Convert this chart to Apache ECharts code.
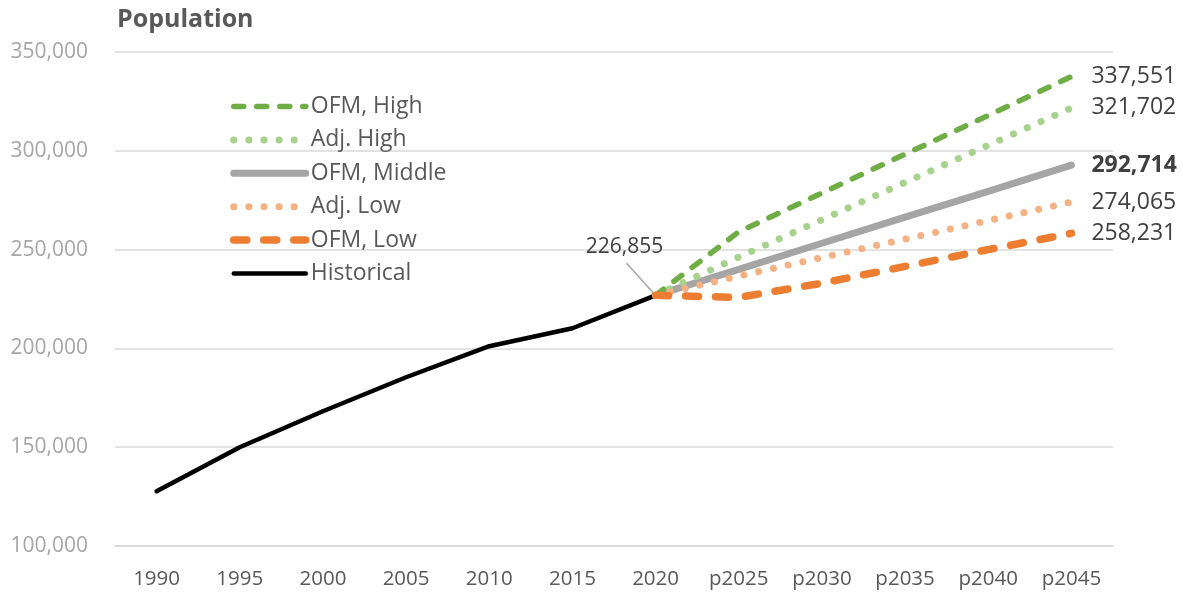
<!DOCTYPE html>
<html>
<head>
<meta charset="utf-8">
<script src="https://cdn.jsdelivr.net/npm/echarts@6/dist/echarts.min.js"></script>
<style>html,body{margin:0;padding:0;background:#fff;}#c{width:1183px;height:596px;}</style>
</head>
<body>
<div id="c"></div>
<script>
const categories = ['1990','1995','2000','2005','2010','2015','2020','p2025','p2030','p2035','p2040','p2045'];
const historical = [127700, 150000, 168200, 185400, 201100, 210200, 226855, null, null, null, null, null];
const ofmHigh   = [null, null, null, null, null, null, 226855, 259000, 278600, 298300, 317900, 337551];
const adjHigh   = [null, null, null, null, null, null, 226855, 246200, 265100, 284000, 302800, 321702];
const ofmMiddle = [null, null, null, null, null, null, 226855, 240000, 253200, 266400, 279500, 292714];
const adjLow    = [null, null, null, null, null, null, 226855, 236600, 246000, 255300, 264700, 274065];
const ofmLow    = [null, null, null, null, null, null, 226855, 225800, 233000, 241500, 250000, 258231];
const yTicks = [100000, 150000, 200000, 250000, 300000, 350000];

const FONT = '"Open Sans", "Noto Sans", sans-serif';
const fmt = v => Number(v).toLocaleString('en-US');

const styles = {
  'Historical':  { color: '#000000', width: 4.5, type: 'solid', cap: 'round' },
  'OFM, Middle': { color: '#A5A5A5', width: 7, type: 'solid', cap: 'round' },
  'Adj. High':   { color: '#A9D18E', width: 7, type: [0.1, 15], cap: 'round' },
  'OFM, High':   { color: '#70AD47', width: 5.5, type: [10, 13], cap: 'round' },
  'Adj. Low':    { color: '#F4B183', width: 7, type: [0.1, 15], cap: 'round' },
  'OFM, Low':    { color: '#ED7D31', width: 7.5, type: [13, 17], cap: 'round' }
};
const legendOrder = ['OFM, High', 'Adj. High', 'OFM, Middle', 'Adj. Low', 'OFM, Low', 'Historical'];

function endLbl(bold) {
  return {
    show: true, distance: 20, fontFamily: FONT, fontSize: 23,
    color: '#404040', fontWeight: bold ? 'bold' : 'normal',
    formatter: p => fmt(p.value)
  };
}

const histData = historical.map((v, i) => {
  if (i === 6) {
    return { value: v, symbol: 'circle', symbolSize: 1,
      label: { show: true, position: 'top', formatter: p => fmt(p.value),
        fontFamily: FONT, fontSize: 21, color: '#404040' } };
  }
  return v;
});

function mkSeries(name, data, z, extra) {
  const s = styles[name];
  return Object.assign({
    name, type: 'line', data, showSymbol: false, symbol: 'none', z,
    lineStyle: { color: s.color, width: s.width, type: s.type, cap: s.cap },
    itemStyle: { color: s.color }
  }, extra || {});
}

const chart = echarts.init(document.getElementById('c'), null, { renderer: 'canvas' });
chart.setOption({
  animation: false,
  backgroundColor: '#ffffff',
  title: {
    text: 'Population', left: 117, top: 7, padding: 0,
    textStyle: { fontFamily: FONT, fontSize: 25, fontWeight: 'bold', color: '#595959' }
  },
  legend: {
    orient: 'vertical', left: 230, top: 95, padding: 0, itemGap: 10.4, itemWidth: 72, itemHeight: 22,
    data: legendOrder.map(n => ({
      name: n,
      itemStyle: { opacity: 0 },
      lineStyle: { color: styles[n].color, width: styles[n].width, type: styles[n].type, cap: styles[n].cap }
    })),
    textStyle: { fontFamily: FONT, fontSize: 23, lineHeight: 21, height: 21, color: '#595959' }
  },
  grid: { left: 115, right: 70, top: 52, bottom: 50 },
  xAxis: {
    type: 'category', data: categories, boundaryGap: true,
    axisLine: { show: true, lineStyle: { color: '#D9D9D9', width: 1.5 } },
    axisTick: { show: false },
    axisLabel: { fontFamily: FONT, fontSize: 20.5, color: '#595959', margin: 23, interval: 0 }
  },
  yAxis: {
    type: 'value', min: yTicks[0], max: yTicks[yTicks.length - 1], interval: 50000,
    axisLine: { show: false }, axisTick: { show: false },
    splitLine: { lineStyle: { color: '#D9D9D9', width: 1.5 } },
    axisLabel: { fontFamily: FONT, fontSize: 21, color: '#A6A6A6', margin: 27, formatter: v => fmt(v) }
  },
  series: [
    mkSeries('Historical', histData, 3, { showSymbol: true, labelLayout: { dx: -31, dy: -32 } }),
    mkSeries('OFM, Middle', ofmMiddle, 4, { endLabel: endLbl(true) }),
    mkSeries('Adj. High', adjHigh, 4, { endLabel: endLbl(false) }),
    mkSeries('OFM, High', ofmHigh, 4, { endLabel: endLbl(false) }),
    mkSeries('Adj. Low', adjLow, 4, { endLabel: endLbl(false) }),
    mkSeries('OFM, Low', ofmLow, 5, { endLabel: endLbl(false) })
  ]
});

// leader line for the 2020 label, anchored on the data point through the chart's own scales
const p = chart.convertToPixel({ gridIndex: 0 }, [categories[6], historical[6]]);
chart.setOption({
  graphic: [{
    type: 'line', z: 2,
    shape: { x1: p[0] - 1, y1: p[1] - 1, x2: p[0] - 29, y2: p[1] - 32 },
    style: { stroke: '#A6A6A6', lineWidth: 1.5 }
  }]
});
</script>
</body>
</html>
